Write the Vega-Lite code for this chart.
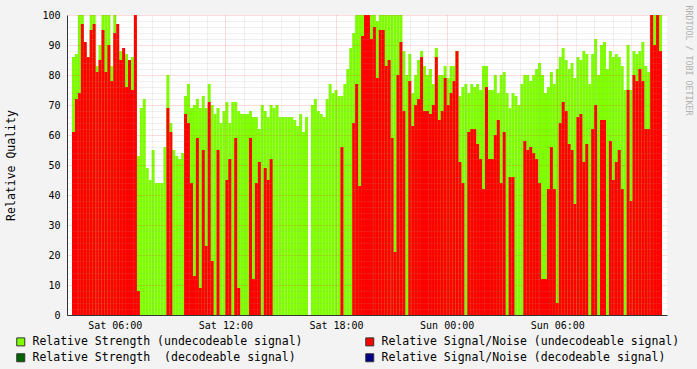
{
  "$schema": "https://vega.github.io/schema/vega-lite/v6.json",
  "width": 600,
  "height": 300,
  "autosize": {"type": "none"},
  "padding": {"left": 67, "top": 15, "right": 30, "bottom": 54},
  "background": "#f3f3f3",
  "config": {
    "view": {"fill": "#ffffff", "stroke": null},
    "font": "DejaVu Sans Mono",
    "axis": {"labelFont": "DejaVu Sans Mono", "titleFont": "DejaVu Sans Mono", "titleFontWeight": "normal", "labelColor": "#000000", "titleColor": "#000000"}
  },
  "data": {"values": [
    {"t":3.76,"g":86,"r":61},{"t":3.92,"g":87,"r":72},{"t":4.08,"g":100,"r":74},{"t":4.24,"g":100,"r":97},{"t":4.40,"g":88,"r":91},
    {"t":4.56,"g":86,"r":86},{"t":4.72,"g":100,"r":95},{"t":4.88,"g":100,"r":97},{"t":5.04,"g":83,"r":81},{"t":5.20,"g":90,"r":85},
    {"t":5.36,"g":100,"r":95},{"t":5.52,"g":100,"r":81},{"t":5.68,"g":100,"r":90},{"t":5.84,"g":83,"r":78},{"t":6.00,"g":100,"r":94},
    {"t":6.16,"g":90,"r":97},{"t":6.32,"g":88,"r":85},{"t":6.48,"g":86,"r":89},{"t":6.64,"g":87,"r":76},{"t":6.80,"g":84,"r":85},
    {"t":6.96,"g":86,"r":75},{"t":7.12,"g":96,"r":100},{"t":7.28,"g":53,"r":8},{"t":7.44,"g":69,"r":0},{"t":7.60,"g":72,"r":0},
    {"t":7.76,"g":49,"r":0},{"t":7.92,"g":45,"r":0},{"t":8.08,"g":55,"r":0},{"t":8.24,"g":44,"r":0},{"t":8.40,"g":44,"r":0},
    {"t":8.56,"g":44,"r":0},{"t":8.72,"g":56,"r":0},{"t":8.88,"g":80,"r":69},{"t":9.04,"g":64,"r":61},{"t":9.20,"g":55,"r":0},
    {"t":9.36,"g":53,"r":0},{"t":9.52,"g":52,"r":0},{"t":9.68,"g":54,"r":0},{"t":9.84,"g":73,"r":67},{"t":10.00,"g":77,"r":64},
    {"t":10.16,"g":69,"r":44},{"t":10.32,"g":70,"r":13},{"t":10.48,"g":72,"r":59},{"t":10.64,"g":69,"r":9},{"t":10.80,"g":73,"r":55},
    {"t":10.96,"g":69,"r":23},{"t":11.12,"g":77,"r":71},{"t":11.28,"g":70,"r":18},{"t":11.44,"g":67,"r":0},{"t":11.60,"g":69,"r":55},
    {"t":11.76,"g":64,"r":0},{"t":11.92,"g":68,"r":0},{"t":12.08,"g":71,"r":45},{"t":12.24,"g":64,"r":52},{"t":12.40,"g":71,"r":0},
    {"t":12.56,"g":71,"r":59},{"t":12.72,"g":68,"r":9},{"t":12.88,"g":67,"r":0},{"t":13.04,"g":67,"r":0},{"t":13.20,"g":67,"r":0},
    {"t":13.36,"g":68,"r":59},{"t":13.52,"g":66,"r":12},{"t":13.68,"g":66,"r":44},{"t":13.84,"g":62,"r":51},{"t":14.00,"g":70,"r":0},
    {"t":14.16,"g":68,"r":49},{"t":14.32,"g":66,"r":45},{"t":14.48,"g":70,"r":52},{"t":14.64,"g":69,"r":0},{"t":14.80,"g":70,"r":0},
    {"t":14.96,"g":66,"r":0},{"t":15.12,"g":66,"r":0},{"t":15.28,"g":66,"r":0},{"t":15.44,"g":66,"r":0},{"t":15.60,"g":66,"r":0},
    {"t":15.76,"g":65,"r":0},{"t":15.92,"g":63,"r":0},{"t":16.08,"g":67,"r":0},{"t":16.24,"g":61,"r":0},{"t":16.40,"g":66,"r":0},
    {"t":16.56,"g":0,"r":0},{"t":16.72,"g":70,"r":0},{"t":16.88,"g":72,"r":0},{"t":17.04,"g":68,"r":0},{"t":17.20,"g":67,"r":0},
    {"t":17.36,"g":66,"r":0},{"t":17.52,"g":72,"r":0},{"t":17.68,"g":77,"r":0},{"t":17.84,"g":74,"r":0},{"t":18.00,"g":75,"r":0},
    {"t":18.16,"g":73,"r":0},{"t":18.32,"g":73,"r":56},{"t":18.48,"g":77,"r":0},{"t":18.64,"g":82,"r":0},{"t":18.80,"g":89,"r":0},
    {"t":18.96,"g":94,"r":64},{"t":19.12,"g":100,"r":77},{"t":19.28,"g":100,"r":43},{"t":19.44,"g":100,"r":93},{"t":19.60,"g":100,"r":100},
    {"t":19.76,"g":100,"r":100},{"t":19.92,"g":100,"r":92},{"t":20.08,"g":100,"r":96},{"t":20.24,"g":98,"r":79},{"t":20.40,"g":100,"r":95},
    {"t":20.56,"g":100,"r":95},{"t":20.72,"g":100,"r":83},{"t":20.88,"g":100,"r":85},{"t":21.04,"g":100,"r":59},{"t":21.20,"g":100,"r":21},
    {"t":21.36,"g":100,"r":80},{"t":21.52,"g":100,"r":91},{"t":21.68,"g":88,"r":68},{"t":21.84,"g":80,"r":0},{"t":22.00,"g":87,"r":78},
    {"t":22.16,"g":74,"r":63},{"t":22.32,"g":80,"r":70},{"t":22.48,"g":85,"r":72},{"t":22.64,"g":88,"r":86},{"t":22.80,"g":83,"r":68},
    {"t":22.96,"g":80,"r":68},{"t":23.12,"g":82,"r":67},{"t":23.28,"g":77,"r":70},{"t":23.44,"g":89,"r":86},{"t":23.60,"g":80,"r":65},
    {"t":23.76,"g":80,"r":68},{"t":23.92,"g":83,"r":79},{"t":24.08,"g":79,"r":70},{"t":24.24,"g":83,"r":74},{"t":24.40,"g":83,"r":78},
    {"t":24.56,"g":88,"r":88},{"t":24.72,"g":73,"r":51},{"t":24.88,"g":76,"r":44},{"t":25.04,"g":77,"r":0},{"t":25.20,"g":74,"r":61},
    {"t":25.36,"g":77,"r":62},{"t":25.52,"g":76,"r":62},{"t":25.68,"g":77,"r":57},{"t":25.84,"g":75,"r":52},{"t":26.00,"g":83,"r":42},
    {"t":26.16,"g":83,"r":76},{"t":26.32,"g":75,"r":52},{"t":26.48,"g":75,"r":52},{"t":26.64,"g":80,"r":60},{"t":26.80,"g":74,"r":65},
    {"t":26.96,"g":80,"r":44},{"t":27.12,"g":81,"r":61},{"t":27.28,"g":74,"r":0},{"t":27.44,"g":69,"r":46},{"t":27.60,"g":74,"r":46},
    {"t":27.76,"g":73,"r":0},{"t":27.92,"g":70,"r":0},{"t":28.08,"g":77,"r":0},{"t":28.24,"g":80,"r":58},{"t":28.40,"g":80,"r":55},
    {"t":28.56,"g":78,"r":56},{"t":28.72,"g":80,"r":54},{"t":28.88,"g":82,"r":52},{"t":29.04,"g":84,"r":44},{"t":29.20,"g":80,"r":12},
    {"t":29.36,"g":74,"r":12},{"t":29.52,"g":76,"r":42},{"t":29.68,"g":81,"r":56},{"t":29.84,"g":77,"r":42},{"t":30.00,"g":82,"r":4},
    {"t":30.16,"g":86,"r":64},{"t":30.32,"g":89,"r":71},{"t":30.48,"g":85,"r":68},{"t":30.64,"g":82,"r":57},{"t":30.80,"g":84,"r":55},
    {"t":30.96,"g":79,"r":37},{"t":31.12,"g":86,"r":66},{"t":31.28,"g":85,"r":67},{"t":31.44,"g":88,"r":51},{"t":31.60,"g":87,"r":57},
    {"t":31.76,"g":77,"r":0},{"t":31.92,"g":87,"r":62},{"t":32.08,"g":92,"r":70},{"t":32.24,"g":80,"r":0},{"t":32.40,"g":90,"r":65},
    {"t":32.56,"g":91,"r":65},{"t":32.72,"g":82,"r":0},{"t":32.88,"g":88,"r":58},{"t":33.04,"g":86,"r":45},{"t":33.20,"g":87,"r":51},
    {"t":33.36,"g":86,"r":55},{"t":33.52,"g":83,"r":42},{"t":33.68,"g":75,"r":0},{"t":33.84,"g":90,"r":75},{"t":34.00,"g":75,"r":38},
    {"t":34.16,"g":88,"r":80},{"t":34.32,"g":87,"r":78},{"t":34.48,"g":88,"r":82},{"t":34.64,"g":91,"r":78},{"t":34.80,"g":83,"r":62},
    {"t":34.96,"g":81,"r":62},{"t":35.12,"g":100,"r":100},{"t":35.28,"g":100,"r":90},{"t":35.44,"g":100,"r":100},{"t":35.60,"g":100,"r":88}
  ]},
  "layer": [
    {
      "mark": {"type": "bar", "width": 3, "cornerRadius": 0, "strokeWidth": 0},
      "encoding": {
        "x": {
          "field": "t", "type": "quantitative",
          "scale": {"domain": [3.68, 35.68], "nice": false, "zero": false},
          "axis": {"orient": "top", "values": [4,5,7,8,9,10,11,13,14,15,16,17,19,20,21,22,23,25,26,27,28,29,31,32,33,34,35],
                   "grid": true, "gridColor": "#999999", "gridOpacity": 0.3, "gridDash": [1, 1], "labels": false, "ticks": false, "domain": false, "title": null, "zindex": 1}
        },
        "y": {
          "field": "g", "type": "quantitative",
          "scale": {"domain": [0, 100], "nice": false},
          "axis": {"orient": "right", "values": [2,4,6,8,12,14,16,18,22,24,26,28,32,34,36,38,42,44,46,48,52,54,56,58,62,64,66,68,72,74,76,78,82,84,86,88,92,94,96,98],
                   "grid": true, "gridColor": "#999999", "gridOpacity": 0.3, "gridDash": [1, 1], "labels": false, "ticks": false, "domain": false,
                   "title": "RRDTOOL / TOBI OETIKER", "titleAngle": 90, "titleX": 20, "titleY": 45, "titleAlign": "center", "titleBaseline": "middle",
                   "titleFontSize": 8.3, "titleColor": "#b0b0b0", "zindex": 1}
        },
        "color": {
          "datum": "Relative Strength (undecodeable signal)", "type": "nominal",
          "scale": {
            "domain": ["Relative Strength (undecodeable signal)", "Relative Strength\u00a0 (decodeable signal)", "Relative Signal/Noise (undecodeable signal)", "Relative Signal/Noise (decodeable signal)"],
            "range": ["#7fff00", "#006400", "#ff0000", "#00008b"]
          },
          "legend": {
            "orient": "none", "legendX": -52, "legendY": 321, "columns": 2, "title": null, "padding": 0,
            "symbolType": "square", "symbolSize": 64, "symbolStrokeColor": "#333333", "symbolStrokeWidth": 1, "symbolOpacity": 1,
            "labelFont": "DejaVu Sans Mono", "labelFontSize": 11.5, "labelColor": "#000000", "labelOffset": 6, "labelLimit": 0,
            "columnPadding": 60, "rowPadding": 3
          }
        }
      }
    },
    {
      "mark": {"type": "bar", "width": 3, "cornerRadius": 0, "strokeWidth": 0},
      "encoding": {
        "x": {
          "field": "t", "type": "quantitative",
          "axis": {"orient": "bottom", "values": [6, 12, 18, 24, 30],
                   "labelExpr": "(datum.value < 24 ? 'Sat ' : 'Sun ') + (datum.value % 24 < 10 ? '0' : '') + (datum.value % 24) + ':00'",
                   "grid": true, "gridColor": "#ff3030", "gridOpacity": 0.35, "gridDash": [1, 1], "ticks": false, "tickSize": 0, "labelPadding": 5,
                   "labelFontSize": 10, "labelFlush": false, "labelOverlap": false, "domainColor": "#333333", "title": null, "zindex": 1}
        },
        "y": {
          "field": "r", "type": "quantitative",
          "axis": {"orient": "left", "values": [0,10,20,30,40,50,60,70,80,90,100],
                   "grid": true, "gridColor": "#ff3030", "gridOpacity": 0.35, "gridDash": [1, 1], "ticks": false, "tickSize": 0, "labelPadding": 7,
                   "labelFontSize": 10, "domainColor": "#333333",
                   "title": "Relative Quality", "titleX": -56, "titleY": 150, "titleAlign": "center", "titleBaseline": "middle", "titleAngle": -90,
                   "titleFontSize": 11.5, "zindex": 1}
        },
        "color": {"datum": "Relative Signal/Noise (undecodeable signal)", "type": "nominal"}
      }
    }
  ]
}
